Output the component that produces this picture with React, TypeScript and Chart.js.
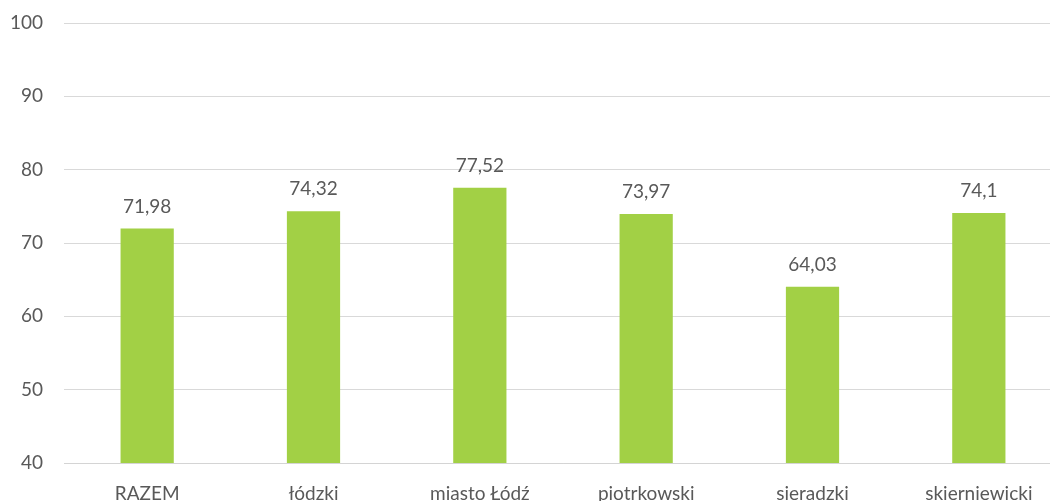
import React, { useEffect, useRef } from "react";
import { Chart, registerables } from "chart.js";

Chart.register(...registerables);

const categories = ["RAZEM", "łódzki", "miasto Łódź", "piotrkowski", "sieradzki", "skierniewicki"];
const values = [71.98, 74.32, 77.52, 73.97, 64.03, 74.1];
const yTicks = [40, 50, 60, 70, 80, 90, 100];

const FONT = "Lato, 'Open Sans', sans-serif";
const TEXT = "#595959";

const labelPlugin = {
  id: "valueLabels",
  afterDatasetsDraw(chart: any) {
    const ctx = chart.ctx;
    const meta = chart.getDatasetMeta(0);
    ctx.save();
    ctx.font = `19px ${FONT}`;
    ctx.fillStyle = TEXT;
    ctx.textAlign = "center";
    ctx.textBaseline = "middle";
    meta.data.forEach((bar: any, i: number) => {
      const txt = String(values[i]).replace(".", ",");
      ctx.fillText(txt, bar.x, bar.y - 22);
    });
    ctx.restore();
  },
};

export default function App() {
  const ref = useRef<HTMLCanvasElement>(null);
  useEffect(() => {
    if (!ref.current) return;
    const chart = new Chart(ref.current, {
      type: "bar",
      data: {
        labels: categories,
        datasets: [
          {
            data: values,
            backgroundColor: "#A2D045",
            categoryPercentage: 1,
            barPercentage: 0.32,
          },
        ],
      },
      options: {
        responsive: false,
        animation: false,
        layout: { padding: { top: 23, right: 13, left: 0, bottom: 0 } },
        plugins: { legend: { display: false }, tooltip: { enabled: false } },
        scales: {
          x: {
            grid: { display: false, drawTicks: false },
            border: { display: true, color: "#D4D4D4", width: 1 },
            ticks: { color: TEXT, font: { family: FONT, size: 19 }, padding: 19, maxRotation: 0, autoSkip: false },
            afterFit: (s: any) => { s.height = 57; s.paddingLeft = 0; s.paddingRight = 0; },
          },
          y: {
            min: 40,
            max: 100,
            afterBuildTicks: (s: any) => { s.ticks = yTicks.map((v) => ({ value: v })); },
            grid: { color: "#D9D9D9", lineWidth: 1, drawTicks: false },
            border: { display: false },
            ticks: { color: TEXT, font: { family: FONT, size: 19 }, padding: 21 },
            afterFit: (s: any) => { s.width = 64; s.paddingTop = 0; s.paddingBottom = 0; },
          },
        },
      },
      plugins: [labelPlugin],
    });
    return () => chart.destroy();
  }, []);
  return (
    <div style={{ position: "absolute", left: 0, top: 0, width: 1050, height: 501, overflow: "hidden", background: "#fff" }}>
      <canvas ref={ref} width={1075} height={520} style={{ display: "block" }} />
    </div>
  );
}
